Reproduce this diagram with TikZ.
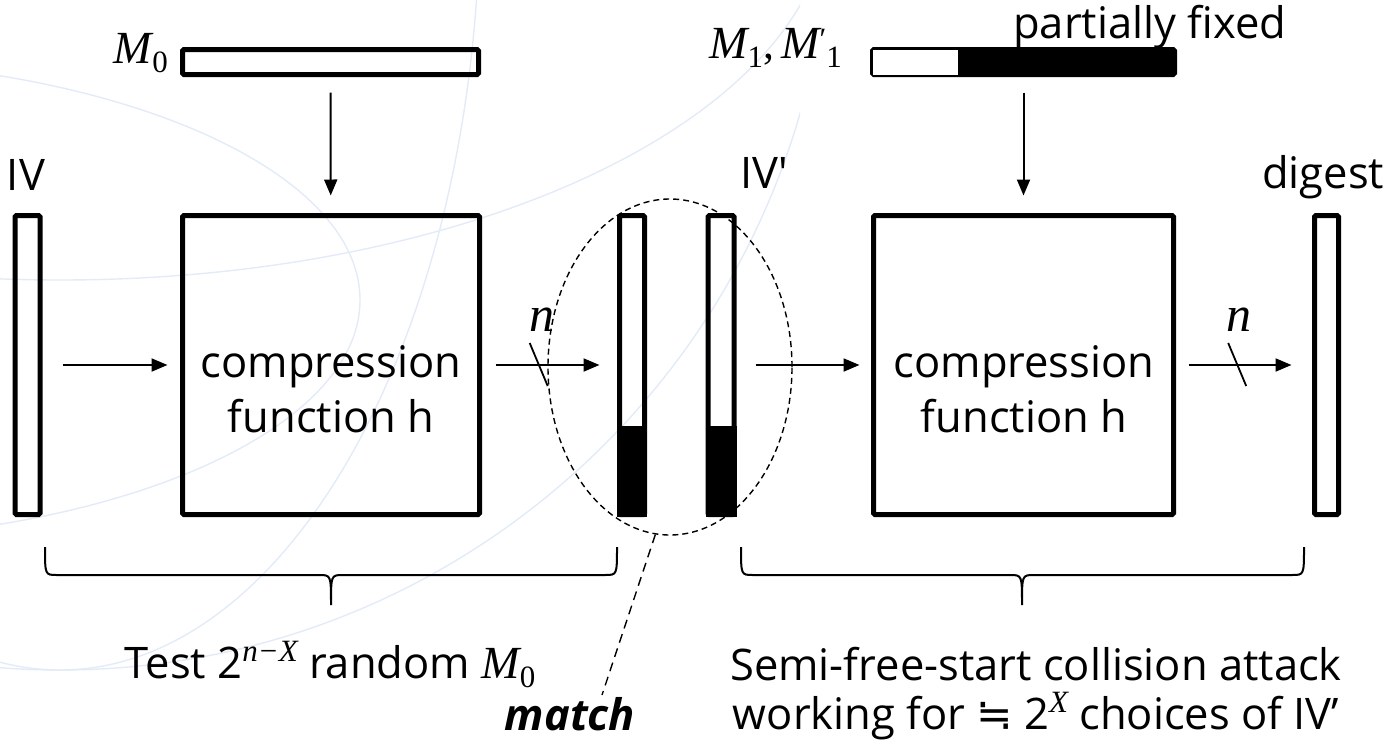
\documentclass[tikz,border=0pt]{standalone}
\usepackage{fontspec}
\setmainfont{Open Sans}
\newfontfamily\straightfont{Open Sans}
\newfontfamily\symfont{DejaVu Sans}
\newfontfamily\mfont{Liberation Serif}
\newcommand{\mv}[1]{{\fontsize{46}{46}\selectfont\mfont\itshape #1}}
\newcommand{\msub}[1]{\raisebox{-9pt}{\fontsize{31}{31}\selectfont\mfont #1}}
\newcommand{\msup}[1]{\raisebox{17pt}{\fontsize{31}{31}\selectfont\mfont\itshape #1}}
\usetikzlibrary{arrows.meta,shapes.geometric,calc}
\begin{document}
\begin{tikzpicture}[x=1pt,y=-1pt,
  lbl/.style={font=\fontsize{43.5}{50}\selectfont, inner sep=0pt},
  bar/.style={draw, line width=5pt, rounded corners=1.5pt, inner sep=0pt},
  conn/.style={line width=2pt, -{Triangle[length=16pt,width=13pt]}},
  brace/.style={line width=2pt},
  globe/.style={draw={rgb,255:red,226;green,235;blue,247}, line width=1.4pt}
]
\useasboundingbox (0,0) rectangle (1397,742);
% faint background globe
\begin{scope}
\clip (0,0) rectangle (800,700);
\draw[globe] (60,-100) circle [radius=770];
\draw[globe] (60,-100) ellipse [x radius=770, y radius=380];
\draw[globe] (60,-100) ellipse [x radius=420, y radius=770];
\draw[globe] (-200,300) ellipse [x radius=560, y radius=240];
\end{scope}
% main boxes and bars
\node[bar, minimum width=297pt, minimum height=299pt] (box1) at (331,365) {};
\node[bar, minimum width=300pt, minimum height=299pt] (box2) at (1023.5,365) {};
\node[bar, minimum width=25pt, minimum height=299pt] (iv) at (27.5,365) {};
\node[bar, minimum width=25pt, minimum height=299pt] (midl) at (632,365) {};
\node[bar, minimum width=26pt, minimum height=299pt] (ivp) at (721,365) {};
\node[bar, minimum width=24pt, minimum height=299pt] (dg) at (1326.5,365) {};
\node[bar, minimum width=296pt, minimum height=25pt] (m0bar) at (330.5,62) {};
\node[bar, fill=black, minimum width=302pt, minimum height=25pt] (m1bar) at (1023.5,62) {};
\fill[white] ([shift={(2.5pt,-2.5pt)}]m1bar.north west) rectangle ([shift={(87.5pt,2.5pt)}]m1bar.south west);
\fill[black] (midl.south west) rectangle ([yshift=91.5pt]midl.south east);
\fill[black] (ivp.south west) rectangle ([yshift=91.5pt]ivp.south east);
% labels
\node[lbl, anchor=base] (ivlab) at (26,190) {IV};
\node[lbl, anchor=base west] (ivplab) at (740,188) {IV{\straightfont '}};
\node[lbl, anchor=base west] (dglab) at (1262,188) {digest};
\node[lbl, anchor=base west] (pflab) at (1013,38) {partially fixed};
\node[lbl, anchor=base east] (m0lab) at (168,63) {\mv{M}\msub{0}};
\node[lbl, anchor=base east] (m1lab) at (842,58) {\mv{M}\msub{1}{\mfont ,}\,\mv{M}\raisebox{9pt}{\fontsize{31}{31}\selectfont\mfont ′}\msub{1}};
\node[lbl, anchor=base] (c1a) at (331,377) {compression};
\node[lbl, anchor=base] (c1b) at (331,432) {function h};
\node[lbl, anchor=base] (c2a) at (1024,377) {compression};
\node[lbl, anchor=base] (c2b) at (1024,432) {function h};
% connectors
\draw[conn, shorten <=15.5pt, shorten >=17.5pt] (m0bar) -- (box1);
\draw[conn, shorten <=15.5pt, shorten >=17.5pt] (m1bar) -- (box2);
\draw[conn, shorten <=20pt, shorten >=12.5pt] (iv) -- (box1);
\draw[conn, shorten <=13.5pt, shorten >=17.5pt] (box1) -- coordinate[pos=0.42] (s1) (midl);
\draw[conn, shorten <=19pt, shorten >=11.5pt] (ivp) -- (box2);
\draw[conn, shorten <=12.5pt, shorten >=20.5pt] (box2) -- coordinate[pos=0.45] (s2) (dg);
\draw[line width=1.8pt] ([shift={(-9pt,22pt)}]s1) -- ([shift={(9pt,-21pt)}]s1);
\draw[line width=1.8pt] ([shift={(-9pt,22pt)}]s2) -- ([shift={(9pt,-21pt)}]s2);
\node[lbl] (n1) at ([shift={(3pt,45pt)}]s1) {{\fontsize{50}{50}\selectfont\mfont\itshape n}};
\node[lbl] (n2) at ([shift={(2pt,45pt)}]s2) {{\fontsize{50}{50}\selectfont\mfont\itshape n}};
% match ellipse
\node[ellipse, draw, line width=1.4pt, dash pattern=on 6pt off 4pt, minimum width=244pt, minimum height=336pt, inner sep=0pt] (mell) at (670,367) {};
\node[lbl, anchor=base, font=\fontsize{43.5}{50}\selectfont\bfseries\itshape] (matchlab) at (570,730) {match};
\coordinate (mtip) at (602,695);
\draw[line width=1.4pt, dash pattern=on 9pt off 6pt] (mell.-95) -- (mtip);
% braces
\draw[brace] (45,547) .. controls (45,575) .. (57,575) -- (319,575) .. controls (331,575) .. (331,605) .. controls (331,575) .. (343,575) -- (605,575) .. controls (617,575) .. (617,547);
\draw[brace] (741,547) .. controls (741,575) .. (753,575) -- (1010,575) .. controls (1022,575) .. (1022,605) .. controls (1022,575) .. (1034,575) -- (1292,575) .. controls (1304,575) .. (1304,547);
% bottom texts
\node[lbl, anchor=base] (testlab) at (330,678) {Test 2\msup{n−X} random \mv{M}\msub{0}};
\node[lbl, anchor=base, align=center, font=\fontsize{43.5}{49}\selectfont] (semilab) at (1036,729) {Semi-free-start collision attack\\working for {\symfont ≒} 2\msup{X} choices of IV’};
\end{tikzpicture}
\end{document}
